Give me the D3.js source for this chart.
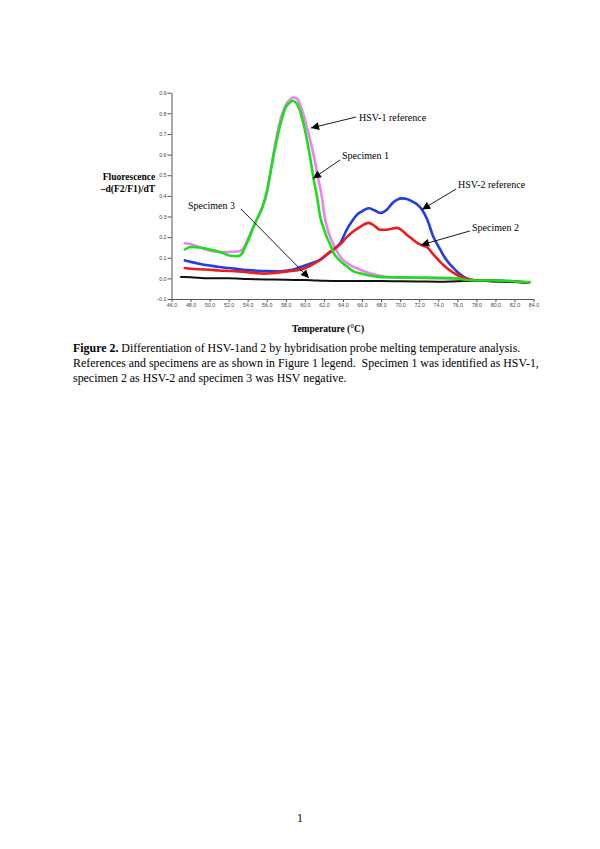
<!DOCTYPE html>
<html>
<head>
<meta charset="utf-8">
<script src="https://cdn.jsdelivr.net/npm/d3@7"></script>
<style>
  html, body { margin: 0; padding: 0; background: #fff; }
  svg { display: block; }
</style>
</head>
<body>
<svg id="chart" width="600" height="849"></svg>
<script>
// ---------- data ----------
const xTicks = [46, 48, 50, 52, 54, 56, 58, 60, 62, 64, 66, 68, 70, 72, 74, 76, 78, 80, 82, 84];
const yTicks = [-0.1, 0, 0.1, 0.2, 0.3, 0.4, 0.5, 0.6, 0.7, 0.8, 0.9];

const hsv1Temp = [47.4, 48, 49, 50, 51, 52, 53, 53.2, 53.6, 54, 54.5, 55, 55.5, 56, 56.5, 57, 57.5, 58, 58.5, 58.8, 59.2, 59.6, 60, 60.5, 61, 61.5, 61.8, 62, 62.5, 63, 63.5, 64, 64.5, 65, 65.8, 67, 68.6, 70, 72, 74, 76, 77, 78, 80, 82, 83.5];
const hsv1Val  = [0.17, 0.165, 0.15, 0.135, 0.128, 0.128, 0.13, 0.132, 0.15, 0.19, 0.24, 0.29, 0.34, 0.41, 0.55, 0.68, 0.78, 0.84, 0.87, 0.877, 0.87, 0.83, 0.77, 0.68, 0.58, 0.46, 0.39, 0.32, 0.22, 0.165, 0.12, 0.09, 0.072, 0.058, 0.042, 0.022, 0.007, 0.004, 0.002, 0.0, -0.002, -0.008, -0.01, -0.012, -0.015, -0.02];

const spec1Temp = [47.4, 48, 49, 50, 50.8, 51.5, 52.2, 53, 53.4, 53.7, 54.2, 54.6, 55, 55.5, 56, 56.5, 57, 57.5, 58, 58.5, 58.7, 59.1, 59.5, 60, 60.5, 61, 61.3, 61.6, 62, 62.3, 62.7, 63, 63.7, 64.2, 65.1, 66, 67.2, 68, 70, 72, 74, 76, 77, 78, 80, 82, 83.6];
const spec1Val  = [0.14, 0.152, 0.15, 0.14, 0.131, 0.12, 0.11, 0.108, 0.12, 0.15, 0.2, 0.25, 0.29, 0.34, 0.42, 0.54, 0.66, 0.76, 0.83, 0.855, 0.861, 0.85, 0.81, 0.72, 0.6, 0.46, 0.39, 0.3, 0.24, 0.2, 0.16, 0.125, 0.085, 0.065, 0.034, 0.022, 0.01, 0.006, 0.005, 0.004, 0.003, 0.0, -0.008, -0.01, -0.01, -0.015, -0.018];

const hsv2Temp = [47.4, 48, 49, 50, 51, 52, 53, 54, 55, 56, 57, 58, 59, 59.5, 60, 61, 61.6, 62.3, 63, 63.7, 64.4, 65, 65.5, 66, 66.7, 67.3, 67.9, 68.6, 69.2, 69.7, 70.2, 70.7, 71.3, 71.8, 72.3, 72.8, 73.5, 74.2, 74.6, 75.1, 75.6, 76.3, 77, 77.5, 78, 80, 82, 83.5];
const hsv2Val  = [0.087, 0.08, 0.07, 0.062, 0.055, 0.05, 0.045, 0.04, 0.037, 0.035, 0.034, 0.037, 0.045, 0.055, 0.062, 0.078, 0.09, 0.115, 0.14, 0.17, 0.236, 0.28, 0.31, 0.325, 0.34, 0.33, 0.317, 0.333, 0.365, 0.382, 0.388, 0.385, 0.372, 0.358, 0.333, 0.29, 0.2, 0.14, 0.107, 0.075, 0.05, 0.02, 0.0, -0.008, -0.01, -0.01, -0.015, -0.02];

const spec2Temp = [47.4, 48, 49, 50, 51, 52, 53, 54, 55, 55.7, 56.5, 57.5, 58.5, 59.5, 60.5, 61.6, 62.4, 63, 63.7, 64.4, 65.1, 65.8, 66.7, 67.3, 67.9, 68.6, 69.2, 69.7, 70.2, 70.7, 71.3, 71.8, 72.3, 72.8, 73.5, 74.2, 74.9, 75.6, 76.3, 77.4, 78, 80, 82, 83.5];
const spec2Val  = [0.05, 0.047, 0.044, 0.042, 0.038, 0.036, 0.034, 0.03, 0.025, 0.023, 0.025, 0.03, 0.036, 0.042, 0.06, 0.09, 0.12, 0.14, 0.165, 0.2, 0.228, 0.25, 0.269, 0.255, 0.236, 0.236, 0.242, 0.245, 0.232, 0.212, 0.19, 0.172, 0.16, 0.152, 0.115, 0.08, 0.05, 0.027, 0.01, -0.006, -0.01, -0.012, -0.015, -0.02];

const spec3Temp = [47, 48, 50, 52, 54, 56, 58, 60, 61, 62, 64, 66, 68, 70, 72, 74, 76, 78, 80, 82, 83.2];
const spec3Val  = [0.007, 0.005, 0.0, 0.0, -0.003, -0.005, -0.007, -0.008, -0.01, -0.012, -0.013, -0.013, -0.013, -0.014, -0.015, -0.016, -0.014, -0.012, -0.015, -0.018, -0.02];

const seriesNames  = ["HSV-1 reference", "HSV-2 reference", "Specimen 2", "Specimen 3", "Specimen 1"];
const seriesColors = ["#f07ef0", "#1f3fe0", "#ee1b1b", "#111111", "#19e019"];

// annotations: label, label anchor (temp, value), line start (temp,value), arrow tip (temp,value)
const annotations = [
  { text: "HSV-1 reference", lx: 65.68, ly: 0.763, sx: 65.37, sy: 0.782, tx: 60.64, ty: 0.729 },
  { text: "Specimen 1",      lx: 63.9,  ly: 0.581, sx: 63.69, sy: 0.574, tx: 60.85, ty: 0.484 },
  { text: "HSV-2 reference", lx: 76.08, ly: 0.44,  sx: 75.87, sy: 0.433, tx: 72.3,  ty: 0.334 },
  { text: "Specimen 2",      lx: 77.55, ly: 0.232, sx: 77.34, sy: 0.23,  tx: 72.2,  ty: 0.162 },
  { text: "Specimen 3",      lx: 47.73, ly: 0.334, sx: 53.3,  sy: 0.336, tx: 60.43, ty: 0.002 }
];

const captionBold = "Figure 2.";
const captionLines = [
  " Differentiation of HSV-1and 2 by hybridisation probe melting temperature analysis.",
  "References and specimens are as shown in Figure 1 legend.\u00A0 Specimen 1 was identified as HSV-1,",
  "specimen 2 as HSV-2 and specimen 3 was HSV negative."
];

// ---------- drawing ----------
const svg = d3.select("#chart");
svg.append("rect").attr("width", 600).attr("height", 849).attr("fill", "#fff");

const x = d3.scaleLinear().domain([46, 84]).range([171.5, 533.5]);
const y = d3.scaleLinear().domain([-0.1, 0.9]).range([299, 92.7]);

const defs = svg.append("defs");
defs.append("marker").attr("id", "arrow")
  .attr("viewBox", "0 0 10 10").attr("refX", 10).attr("refY", 5)
  .attr("markerWidth", 10).attr("markerHeight", 8).attr("markerUnits", "userSpaceOnUse")
  .attr("orient", "auto")
  .append("path").attr("d", "M0,0 L10,5 L0,10 Z").attr("fill", "#000");

// axes
const axisColor = "#555";
const xAxis = d3.axisBottom(x).tickValues(xTicks).tickFormat(d3.format(".1f")).tickSize(3).tickSizeOuter(0);
const yAxis = d3.axisLeft(y).tickValues(yTicks).tickFormat(d3.format(".1f")).tickSize(4).tickSizeOuter(0);

const gx = svg.append("g").attr("transform", `translate(0,${y(-0.1)})`).call(xAxis);
const gy = svg.append("g").attr("transform", `translate(${x(46)},0)`).call(yAxis);
[gx, gy].forEach(g => {
  g.select(".domain").attr("stroke", axisColor).attr("stroke-width", 1);
  g.selectAll(".tick line").attr("stroke", axisColor);
  g.selectAll(".tick text").attr("fill", "#444")
    .style("font-family", "Liberation Sans, Arial, sans-serif").style("font-size", "5.3px");
});
gx.selectAll(".tick text").attr("dy", "0.55em").attr("y", 5);
gy.selectAll(".tick text").attr("x", -5);

// series
const temps = [hsv1Temp, hsv2Temp, spec2Temp, spec3Temp, spec1Temp];
const vals  = [hsv1Val,  hsv2Val,  spec2Val,  spec3Val,  spec1Val];
const line = d3.line().x(d => x(d[0])).y(d => y(d[1])).curve(d3.curveMonotoneX);

seriesNames.forEach((name, i) => {
  const pts = temps[i].map((t, j) => [t, vals[i][j]]);
  svg.append("path").datum(pts)
    .attr("class", "series")
    .attr("d", line)
    .attr("fill", "none")
    .attr("stroke", seriesColors[i])
    .attr("stroke-width", name === "Specimen 3" ? 2 : 2.6)
    .attr("stroke-linejoin", "round")
    .attr("stroke-linecap", "round");
});

// annotations
const ann = svg.append("g");
annotations.forEach(a => {
  ann.append("line")
    .attr("x1", x(a.sx)).attr("y1", y(a.sy))
    .attr("x2", x(a.tx)).attr("y2", y(a.ty))
    .attr("stroke", "#000").attr("stroke-width", 0.9)
    .attr("marker-end", "url(#arrow)");
  ann.append("text")
    .attr("x", x(a.lx)).attr("y", y(a.ly))
    .style("font-family", "Liberation Serif, Times New Roman, serif")
    .style("font-size", "10px")
    .attr("fill", "#000")
    .text(a.text);
});

// axis titles
const serif = "Liberation Serif, Times New Roman, serif";
svg.append("text").attr("x", 129).attr("y", 180).attr("text-anchor", "middle")
  .style("font-family", serif).style("font-size", "9.5px").style("font-weight", "bold")
  .text("Fluorescence");
svg.append("text").attr("x", 128).attr("y", 192).attr("text-anchor", "middle")
  .style("font-family", serif).style("font-size", "9.5px").style("font-weight", "bold")
  .text("\u2013d(F2/F1)/dT");
svg.append("text").attr("x", 328).attr("y", 332).attr("text-anchor", "middle")
  .style("font-family", serif).style("font-size", "9.5px").style("font-weight", "bold")
  .text("Temperature (\u00B0C)");

// caption
const cap = svg.append("text")
  .style("font-family", serif).style("font-size", "11.9px").attr("fill", "#000");
const l1 = cap.append("tspan").attr("x", 73).attr("y", 352);
l1.append("tspan").style("font-weight", "bold").text(captionBold);
l1.append("tspan").text(captionLines[0]);
cap.append("tspan").attr("x", 73).attr("y", 367).text(captionLines[1]);
cap.append("tspan").attr("x", 73).attr("y", 382).text(captionLines[2]);

// page number
svg.append("text").attr("x", 300).attr("y", 822).attr("text-anchor", "middle")
  .style("font-family", serif).style("font-size", "11.9px").text("1");
</script>
</body>
</html>
